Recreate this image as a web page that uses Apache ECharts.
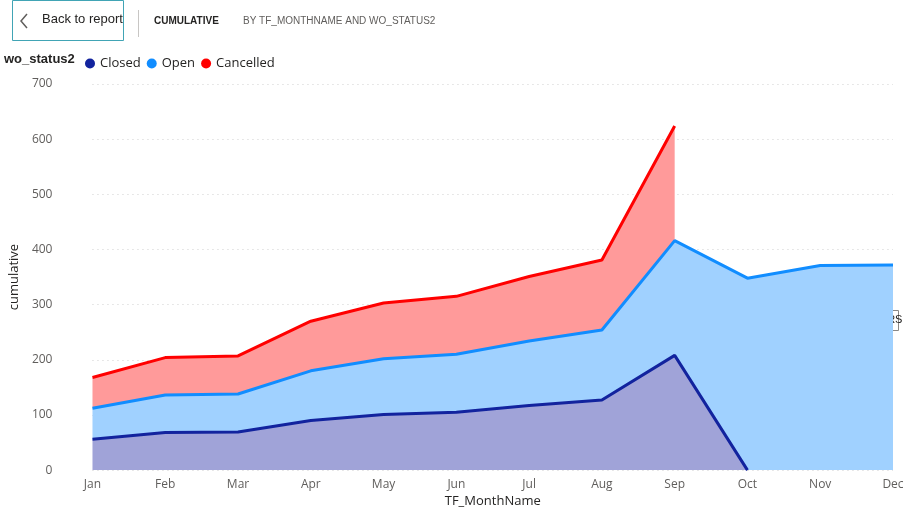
<!DOCTYPE html>
<html>
<head>
<meta charset="utf-8">
<script src="https://cdn.jsdelivr.net/npm/echarts@6/dist/echarts.min.js"></script>
<style>
  html, body { margin: 0; padding: 0; background: #fff; }
  #chart { width: 920px; height: 513px; }
</style>
</head>
<body>
<div id="chart"></div>
<script>
var months = ['Jan', 'Feb', 'Mar', 'Apr', 'May', 'Jun', 'Jul', 'Aug', 'Sep', 'Oct', 'Nov', 'Dec'];
var closedVals = [56, 68, 69, 90, 101, 105, 117, 127, 208, 0, null, null];
var openVals = [56, 68, 69, 90, 101, 105, 117, 127, 208, 348, 371, 372];
var cancelledVals = [56, 68, 69, 90, 101, 105, 117, 127, 208, null, null, null];
var yTicks = [0, 100, 200, 300, 400, 500, 600, 700];

var gridTop = 84, gridBottom = 31;
var pxPerUnit = (513 - gridTop - gridBottom) / yTicks[yTicks.length - 1];

// put each label in the middle of its band
function withLabels(arr) {
  return arr.map(function (v) {
    if (v == null) return null;
    return {
      value: v,
      label: { show: v > 0, offset: [0, v * pxPerUnit / 2 - 2] }
    };
  });
}

function areaSeries(name, data, line, fill) {
  return {
    name: name,
    type: 'line',
    stack: 'total',
    symbol: 'none',
    data: withLabels(data),
    lineStyle: { color: line, width: 3 },
    itemStyle: { color: line },
    areaStyle: { color: fill, opacity: 1 },
    label: { position: 'inside', color: '#605E5C', fontSize: 13, fontFamily: 'Segoe UI, Open Sans, sans-serif' }
  };
}

var chart = echarts.init(document.getElementById('chart'));
chart.setOption({
  animation: false,
  textStyle: { fontFamily: 'Open Sans, sans-serif' },
  legend: {
    left: 80, top: 52, icon: 'circle', itemWidth: 10, itemHeight: 10, itemGap: 6,
    textStyle: { color: '#252423', fontSize: 13 },
    data: ['Closed', 'Open', 'Cancelled']
  },
  grid: { left: 85, right: 27, top: gridTop, bottom: gridBottom },
  xAxis: {
    type: 'category', data: months, boundaryGap: false,
    name: 'TF_MonthName', nameLocation: 'middle', nameGap: 24,
    nameTextStyle: { color: '#252423', fontSize: 13 },
    axisLine: { show: false }, axisTick: { show: false },
    axisLabel: { color: '#605E5C', fontSize: 12 }
  },
  yAxis: {
    type: 'value', min: 0, max: 700, interval: 100,
    name: 'cumulative', nameLocation: 'middle', nameGap: 70,
    nameTextStyle: { color: '#252423', fontSize: 13 },
    axisLabel: { color: '#605E5C', fontSize: 12, margin: 40 },
    splitLine: { lineStyle: { color: '#D0D0D0', type: [1, 4] } }
  },
  series: [
    areaSeries('Closed', closedVals, '#12239E', '#A0A3D8'),
    areaSeries('Open', openVals, '#118DFF', '#A0D1FF'),
    areaSeries('Cancelled', cancelledVals, '#FF0000', '#FF9A9A')
  ],
  graphic: [
    { type: 'rect', shape: { x: 12.5, y: 0.5, width: 111, height: 40 }, style: { fill: '#fff', stroke: '#41A4B5', lineWidth: 1 } },
    { type: 'polyline', shape: { points: [[27, 14], [21, 21], [27, 28]] }, style: { stroke: '#605E5C', lineWidth: 1.5, fill: null } },
    { type: 'text', left: 42, top: 13, style: { text: 'Back to report', fill: '#252423', fontSize: 13 } },
    { type: 'rect', shape: { x: 138, y: 10, width: 1, height: 27 }, style: { fill: '#C8C6C4' } },
    { type: 'text', left: 154, top: 16, style: { text: 'CUMULATIVE', fill: '#252423', fontSize: 10, fontWeight: 'bold' } },
    { type: 'text', left: 243, top: 16, style: { text: 'BY TF_MONTHNAME AND WO_STATUS2', fill: '#605E5C', fontSize: 10 } },
    { type: 'text', left: 4, top: 53, style: { text: 'wo_status2', fill: '#252423', fontSize: 13, fontWeight: 'bold' } },
    { type: 'rect', shape: { x: 667.5, y: 310.5, width: 231, height: 20 }, style: { fill: '#fff', stroke: '#8A8886', lineWidth: 1 } },
    { type: 'text', left: 672, top: 314, style: { text: 'WORK REQUEST FOR THE LAST 24 HOURS', fill: '#252423', fontSize: 11 } }
  ]
});
</script>
</body>
</html>
